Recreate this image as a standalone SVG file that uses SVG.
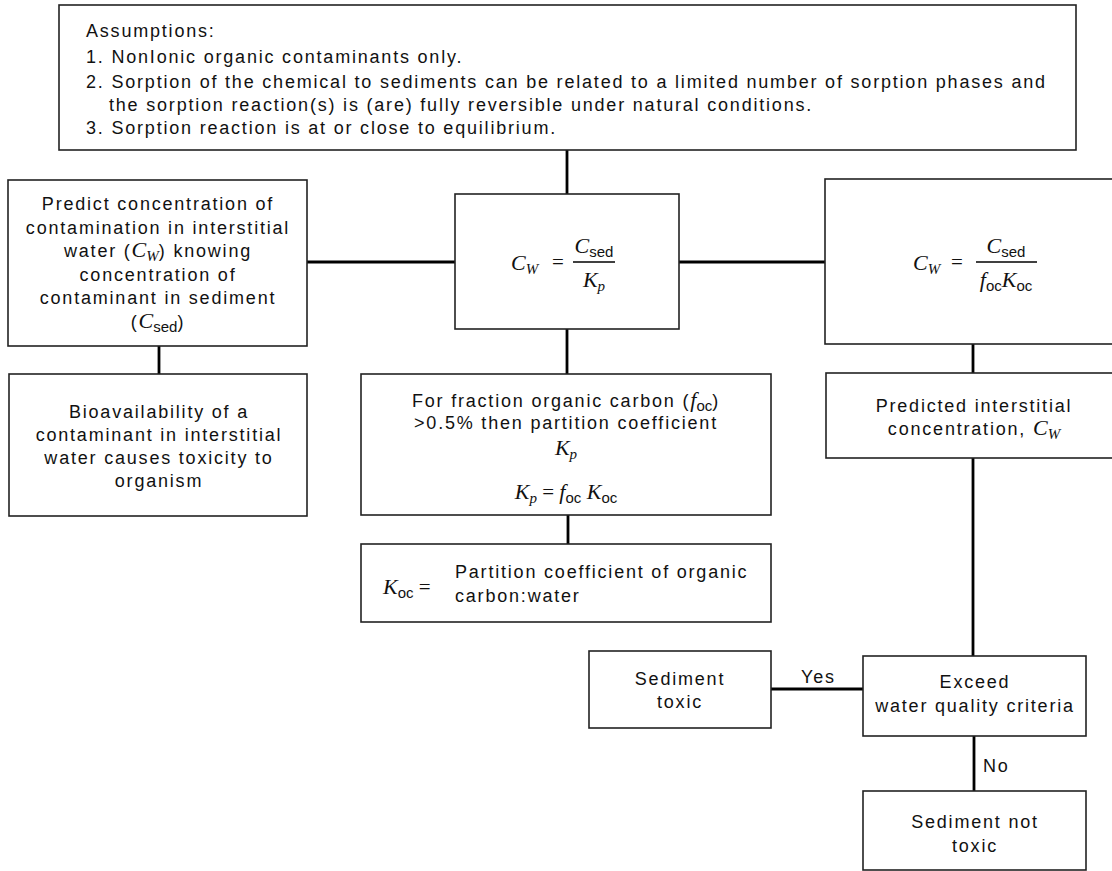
<svg xmlns="http://www.w3.org/2000/svg" width="1112" height="871" viewBox="0 0 1112 871">
<style>
.box{fill:#fff;stroke:#222;stroke-width:1.6}
.con{stroke:#000;stroke-width:2.8;fill:none}
.bar{stroke:#000;stroke-width:1.3}
text{font-family:"Liberation Sans",Arial,sans-serif;font-size:18px;fill:#111;letter-spacing:1.8px}
.c{text-anchor:middle}
.m{font-family:"Liberation Serif","Times New Roman",serif;font-style:italic;font-size:22px;letter-spacing:0}
.ms{font-family:"Liberation Serif","Times New Roman",serif;font-style:italic;font-size:15px;letter-spacing:0}
.ss{font-family:"Liberation Sans",Arial,sans-serif;font-style:normal;font-size:15px;letter-spacing:0}
.eq{font-family:"Liberation Serif","Times New Roman",serif;font-style:normal;font-size:21px;letter-spacing:0}
</style>
<rect width="1112" height="871" fill="#fff"/>
<g id="connectors">
<line class="con" x1="567" y1="150" x2="567" y2="194"/>
<line class="con" x1="307" y1="262" x2="455" y2="262"/>
<line class="con" x1="679" y1="262" x2="825" y2="262"/>
<line class="con" x1="159" y1="346" x2="159" y2="374"/>
<line class="con" x1="567" y1="329" x2="567" y2="374"/>
<line class="con" x1="568" y1="515" x2="568" y2="544"/>
<line class="con" x1="973" y1="344" x2="973" y2="373"/>
<line class="con" x1="973" y1="458" x2="973" y2="656"/>
<line class="con" x1="771" y1="689" x2="863" y2="689"/>
<line class="con" x1="974" y1="736" x2="974" y2="791"/>
<text x="801" y="683">Yes</text>
<text x="983" y="772">No</text>
</g>
<g id="assumptions">
<rect class="box" x="59" y="5" width="1017" height="145"/>
<text x="86" y="37">Assumptions:</text>
<text x="86" y="63">1. NonIonic organic contaminants only.</text>
<text x="86" y="88">2. Sorption of the chemical to sediments can be related to a limited number of sorption phases and</text>
<text x="109" y="111">the sorption reaction(s) is (are) fully reversible under natural conditions.</text>
<text x="86" y="134">3. Sorption reaction is at or close to equilibrium.</text>
</g>
<g id="predict">
<rect class="box" x="8" y="180" width="299" height="166"/>
<text class="c" x="158" y="210">Predict concentration of</text>
<text class="c" x="158" y="234">contamination in interstitial</text>
<text class="c" x="158" y="257">water (<tspan class="m">C</tspan><tspan class="ms" dy="4">W</tspan><tspan dy="-4">) knowing</tspan></text>
<text class="c" x="158" y="281">concentration of</text>
<text class="c" x="158" y="304">contaminant in sediment</text>
<text class="c" x="158" y="328">(<tspan class="m">C</tspan><tspan class="ss" dy="4">sed</tspan><tspan dy="-4">)</tspan></text>
</g>
<g id="eq-kp">
<rect class="box" x="455" y="194" width="224" height="135"/>
<text x="511" y="270"><tspan class="m">C</tspan><tspan class="ms" dy="4">W</tspan></text>
<text class="eq" x="552" y="269">=</text>
<text class="c" x="594" y="253" style="letter-spacing:0"><tspan class="m">C</tspan><tspan class="ss" dy="4">sed</tspan></text>
<line class="bar" x1="573" y1="262" x2="615" y2="262"/>
<text class="c" x="594" y="287" style="letter-spacing:0"><tspan class="m">K</tspan><tspan class="ms" dy="4">p</tspan></text>
</g>
<g id="eq-koc">
<rect class="box" x="825" y="179" width="290" height="165"/>
<text x="913" y="270"><tspan class="m">C</tspan><tspan class="ms" dy="4">W</tspan></text>
<text class="eq" x="951" y="269">=</text>
<text class="c" x="1006" y="253" style="letter-spacing:0"><tspan class="m">C</tspan><tspan class="ss" dy="4">sed</tspan></text>
<line class="bar" x1="976" y1="262" x2="1037" y2="262"/>
<text class="c" x="1006" y="287" style="letter-spacing:0"><tspan class="m">f</tspan><tspan class="ss" dy="4">oc</tspan><tspan class="m" dy="-4">K</tspan><tspan class="ss" dy="4">oc</tspan></text>
</g>
<g id="bioavailability">
<rect class="box" x="9" y="374" width="298" height="142"/>
<text class="c" x="159" y="418">Bioavailability of a</text>
<text class="c" x="159" y="441">contaminant in interstitial</text>
<text class="c" x="159" y="464">water causes toxicity to</text>
<text class="c" x="159" y="487">organism</text>
</g>
<g id="fraction">
<rect class="box" x="361" y="374" width="410" height="141"/>
<text class="c" x="566" y="407">For fraction organic carbon (<tspan class="m">f</tspan><tspan class="ss" dy="4">oc</tspan><tspan dy="-4">)</tspan></text>
<text class="c" x="566" y="429">&gt;0.5% then partition coefficient</text>
<text class="c" x="566" y="455" style="letter-spacing:0"><tspan class="m">K</tspan><tspan class="ms" dy="4">p</tspan></text>
<text class="c" x="566" y="499" style="letter-spacing:0"><tspan class="m">K</tspan><tspan class="ms" dy="4">p</tspan><tspan class="eq" dy="-4"> = </tspan><tspan class="m">f</tspan><tspan class="ss" dy="4">oc</tspan><tspan class="m" dy="-4"> K</tspan><tspan class="ss" dy="4">oc</tspan></text>
</g>
<g id="koc">
<rect class="box" x="361" y="544" width="410" height="78"/>
<text x="383" y="594" style="letter-spacing:0"><tspan class="m">K</tspan><tspan class="ss" dy="4">oc</tspan><tspan class="eq" dy="-4"> =</tspan></text>
<text x="455" y="578">Partition coefficient of organic</text>
<text x="455" y="602">carbon:water</text>
</g>
<g id="predicted">
<rect class="box" x="826" y="373" width="290" height="85"/>
<text class="c" x="974" y="412">Predicted interstitial</text>
<text class="c" x="974" y="435">concentration, <tspan class="m">C</tspan><tspan class="ms" dy="4">W</tspan></text>
</g>
<g id="sediment-toxic">
<rect class="box" x="589" y="651" width="182" height="77"/>
<text class="c" x="680" y="685">Sediment</text>
<text class="c" x="680" y="708">toxic</text>
</g>
<g id="exceed">
<rect class="box" x="863" y="656" width="223" height="80"/>
<text class="c" x="975" y="688">Exceed</text>
<text class="c" x="975" y="712">water quality criteria</text>
</g>
<g id="not-toxic">
<rect class="box" x="863" y="791" width="223" height="79"/>
<text class="c" x="975" y="828">Sediment not</text>
<text class="c" x="975" y="852">toxic</text>
</g>
</svg>
